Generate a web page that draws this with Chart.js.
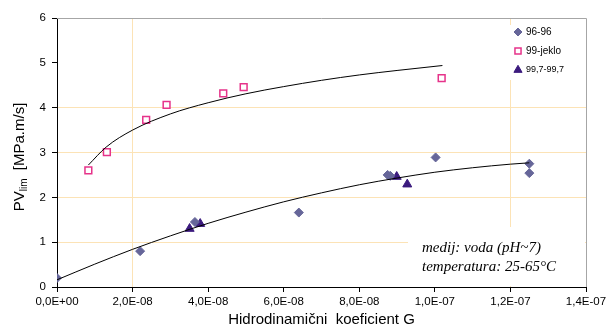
<!DOCTYPE html>
<html>
<head>
<meta charset="utf-8">
<script src="https://cdn.jsdelivr.net/npm/chart.js@4.4.0/dist/chart.umd.min.js"></script>
<style>
    html, body { margin: 0; padding: 0; background: #fff; }
    #wrap { width: 607px; height: 331px; }
</style>
</head>
<body>
<div id="wrap"><canvas id="myChart" width="607" height="331"></canvas></div>
<script>
// measured points, G in real units, PV in MPa.m/s
const seriesNames = ['96-96', '99-jeklo', '99,7-99,7'];

const g9696 = [0, 2.2e-8, 3.65e-8, 6.4e-8, 8.75e-8, 8.82e-8, 10.02e-8, 12.5e-8, 12.5e-8];
const pv9696 = [0.2, 0.8, 1.45, 1.66, 2.5, 2.48, 2.89, 2.75, 2.54];

const gJeklo = [0.83e-8, 1.32e-8, 2.36e-8, 2.9e-8, 4.4e-8, 4.94e-8, 10.18e-8];
const pvJeklo = [2.6, 3.01, 3.73, 4.06, 4.32, 4.46, 4.66];

const g997 = [3.51e-8, 3.79e-8, 8.99e-8, 9.27e-8];
const pv997 = [1.3, 1.41, 2.46, 2.29];

// trend curves
const trendUpperG = [0.83e-8, 1.3e-8, 2e-8, 3e-8, 4e-8, 5e-8, 6e-8, 7e-8, 8e-8, 9e-8, 10.2e-8];
const trendUpperPV = [2.72, 3.12, 3.5, 3.86, 4.11, 4.31, 4.47, 4.61, 4.73, 4.83, 4.94];

const trendLowerG = [0, 1e-8, 2e-8, 3e-8, 4e-8, 5e-8, 6e-8, 7e-8, 8e-8, 9e-8, 10e-8, 11e-8, 12e-8, 12.5e-8];
const trendLowerPV = [0.16, 0.51, 0.84, 1.14, 1.42, 1.67, 1.90, 2.10, 2.28, 2.43, 2.56, 2.66, 2.74, 2.77];

const xTicksMax = 1.4e-7;
const xTickStep = 2e-8;
const yTicksMax = 6;

const noteLines = ['medij: voda (pH~7)', 'temperatura: 25-65°C'];

const xGridAt = [2e-8, 1.2e-7];
const yGridAt = [1, 2, 3, 4];
const gridColor = '#fce3b6';

function pts(xs, ys) {
    return xs.map((x, i) => ({ x: x, y: ys[i] }));
}

function sciLabel(v) {
    const parts = Number(v).toExponential(1).split('e');
    const n = parseInt(parts[1], 10);
    return parts[0].replace('.', ',') + 'E' + (n < 0 ? '-' : '+') + String(Math.abs(n)).padStart(2, '0');
}

function onList(list, v, eps) {
    return list.some(g => Math.abs(g - v) < eps);
}

const framePlugin = {
    id: 'frame',
    beforeDatasetsDraw(chart) {
        const { ctx, chartArea: a } = chart;
        ctx.save();
        ctx.strokeStyle = '#a6a6a6';
        ctx.lineWidth = 1;
        ctx.beginPath();
        ctx.moveTo(a.left, Math.round(a.top) + 0.5);
        ctx.lineTo(Math.round(a.right) + 0.5, Math.round(a.top) + 0.5);
        ctx.lineTo(Math.round(a.right) + 0.5, a.bottom);
        ctx.stroke();
        ctx.restore();
    },
    afterDatasetsDraw(chart) {
        const { ctx, chartArea: a } = chart;
        ctx.save();

        // legend box
        ctx.fillStyle = '#fff';
        ctx.fillRect(a.right - 77, a.top + 7, 76, 55);
        const items = chart.data.datasets.filter(d => d.inLegend);
        const sizes = [10, 10, 9];
        items.forEach((d, i) => {
            const y = a.top + 14 + i * 19;
            ctx.fillStyle = d.backgroundColor;
            ctx.strokeStyle = d.borderColor;
            ctx.lineWidth = d.borderWidth;
            Chart.helpers.drawPoint(ctx, {
                pointStyle: d.pointStyle, rotation: 0,
                radius: d.pointRadius - 0.5, borderWidth: d.borderWidth
            }, a.right - 68, y);
            ctx.fillStyle = '#000';
            ctx.font = sizes[i] + 'px "Liberation Sans", Arial, sans-serif';
            ctx.textBaseline = 'middle';
            ctx.textAlign = 'left';
            ctx.fillText(d.label, a.right - 60, y);
        });

        // note box
        ctx.fillStyle = '#fff';
        ctx.fillRect(a.right - 178, a.bottom - 60, 177, 59);
        ctx.fillStyle = '#000';
        ctx.font = 'italic 15px "Liberation Serif", "Times New Roman", serif';
        ctx.textBaseline = 'alphabetic';
        noteLines.forEach((t, i) => {
            ctx.fillText(t, a.right - 164, a.bottom - 35 + i * 18.5);
        });
        ctx.restore();
    },
    afterDraw(chart) {
        // y title with subscript
        const ctx = chart.ctx;
        const big = '15px "Liberation Sans", Arial, sans-serif';
        const small = '10px "Liberation Sans", Arial, sans-serif';
        ctx.save();
        ctx.font = big;
        const w1 = ctx.measureText('PV').width;
        const w3 = ctx.measureText('  [MPa.m/s]').width;
        ctx.font = small;
        const w2 = ctx.measureText('lim').width;
        const total = w1 + w2 + w3;
        ctx.translate(24, 157);
        ctx.rotate(-Math.PI / 2);
        ctx.fillStyle = '#000';
        ctx.textBaseline = 'alphabetic';
        ctx.textAlign = 'left';
        let x = -total / 2;
        ctx.font = big;
        ctx.fillText('PV', x, 0);
        x += w1;
        ctx.font = small;
        ctx.fillText('lim', x, 2.5);
        x += w2;
        ctx.font = big;
        ctx.fillText('  [MPa.m/s]', x, 0);
        ctx.restore();
    }
};

function renderChart() {
    const ctx = document.getElementById('myChart').getContext('2d');
    const tickFont = { family: '"Liberation Sans", Arial, sans-serif', size: 11.5 };

    new Chart(ctx, {
        type: 'scatter',
        data: {
            datasets: [
                {
                    label: 'trend-upper', data: pts(trendUpperG, trendUpperPV),
                    showLine: true, borderColor: '#000', borderWidth: 1,
                    pointRadius: 0, cubicInterpolationMode: 'monotone', fill: false
                },
                {
                    label: 'trend-lower', data: pts(trendLowerG, trendLowerPV),
                    showLine: true, borderColor: '#000', borderWidth: 1,
                    pointRadius: 0, cubicInterpolationMode: 'monotone', fill: false
                },
                {
                    label: seriesNames[0], data: pts(g9696, pv9696), inLegend: true,
                    pointStyle: 'rectRot', pointRadius: 4.5,
                    backgroundColor: '#666699', borderColor: '#666699', borderWidth: 1
                },
                {
                    label: seriesNames[1], data: pts(gJeklo, pvJeklo), inLegend: true,
                    pointStyle: 'rect', pointRadius: 4.8,
                    backgroundColor: '#ffffff', borderColor: '#e6338a', borderWidth: 1.5
                },
                {
                    label: seriesNames[2], data: pts(g997, pv997), inLegend: true,
                    pointStyle: 'triangle', pointRadius: 5.2,
                    backgroundColor: '#3b1a7e', borderColor: '#3b1a7e', borderWidth: 1
                }
            ]
        },
        options: {
            responsive: false,
            animation: false,
            layout: { padding: { top: 18, right: 21, left: 0, bottom: 0 } },
            plugins: {
                legend: { display: false },
                tooltip: { enabled: false }
            },
            scales: {
                x: {
                    type: 'linear',
                    min: 0, max: xTicksMax,
                    border: { display: true, color: '#000', width: 1 },
                    grid: {
                        color: c => (c.tick && onList(xGridAt, c.tick.value, 1e-12)) ? gridColor : 'rgba(0,0,0,0)',
                        tickColor: '#000', tickLength: 5, drawTicks: true
                    },
                    ticks: {
                        stepSize: xTickStep, autoSkip: false, maxRotation: 0,
                        color: '#000', font: tickFont, padding: 3,
                        callback: v => sciLabel(v)
                    },
                    title: {
                        display: true, text: 'Hidrodinamični  koeficient G', color: '#000',
                        font: { family: '"Liberation Sans", Arial, sans-serif', size: 15 },
                        padding: { top: 0, bottom: 2 }
                    },
                    afterFit: s => { s.height = 44; s.paddingLeft = 0; s.paddingRight = 0; }
                },
                y: {
                    min: 0, max: yTicksMax,
                    border: { display: true, color: '#000', width: 1 },
                    grid: {
                        color: c => (c.tick && onList(yGridAt, c.tick.value, 1e-6)) ? gridColor : 'rgba(0,0,0,0)',
                        tickColor: '#000', tickLength: 5, drawTicks: true
                    },
                    ticks: { stepSize: 1, color: '#000', font: tickFont, padding: 6 },
                    afterFit: s => { s.width = 57; }
                }
            }
        },
        plugins: [framePlugin]
    });
}

window.addEventListener('DOMContentLoaded', renderChart);
</script>
</body>
</html>
